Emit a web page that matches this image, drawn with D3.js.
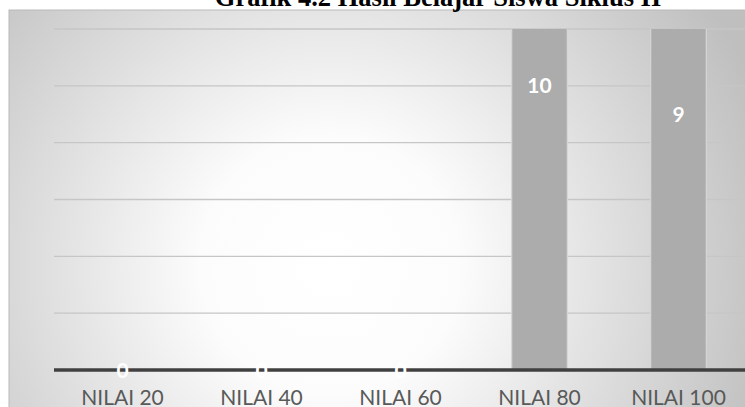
<!DOCTYPE html>
<html><head><meta charset="utf-8">
<script src="https://cdn.jsdelivr.net/npm/d3@7/dist/d3.min.js"></script>
<style>html,body{margin:0;padding:0;background:#fff;overflow:hidden}svg{display:block}</style>
</head><body>
<script>
const categories = ["NILAI 20","NILAI 40","NILAI 60","NILAI 80","NILAI 100"];
const values = [0,0,0,10,9];
const yTicks = [0,1,2,3,4,5,6];
const title = "Grafik 4.2 Hasil Belajar Siswa Siklus II";

const W = 745, H = 407;
const svg = d3.select("body").append("svg").attr("width",W).attr("height",H);
const defs = svg.append("defs");
const rg = defs.append("radialGradient").attr("id","bg").attr("gradientUnits","userSpaceOnUse")
  .attr("cx",330).attr("cy",265).attr("r",460);
rg.append("stop").attr("offset","0").attr("stop-color","#ffffff");
rg.append("stop").attr("offset","0.28").attr("stop-color","#fcfcfc");
rg.append("stop").attr("offset","1").attr("stop-color","#bfbfbf");
defs.append("clipPath").attr("id","plotclip").append("rect")
  .attr("x",0).attr("y",29).attr("width",W).attr("height",400);

// chart area box
svg.append("rect").attr("x",9).attr("y",10).attr("width",W).attr("height",H)
  .attr("fill","url(#bg)").attr("stroke","#bababa").attr("stroke-width",1);

const x = d3.scaleBand().domain(categories).range([53,748]).paddingInner(0.6).paddingOuter(0.3);
const y = d3.scaleLinear().domain([0,6]).range([370,29]);

// gridlines
svg.append("g").selectAll("line").data(yTicks.filter(d=>d>0)).join("line")
  .attr("x1",54).attr("x2",W).attr("y1",d=>y(d)).attr("y2",d=>y(d))
  .attr("stroke","#c6c6c6").attr("stroke-width",1.3);

// bars
svg.append("g").attr("clip-path","url(#plotclip)").selectAll("rect").data(values).join("rect")
  .attr("x",(d,i)=>x(categories[i])).attr("width",x.bandwidth())
  .attr("y",d=>y(d)).attr("height",d=>y(0)-y(d))
  .attr("fill","#acacac").attr("stroke","#d6d6d6").attr("stroke-width",1.2);

// axis line
const xAxis = d3.axisBottom(x).tickSize(0).tickPadding(0);
const ax = svg.append("g").attr("transform",`translate(0,${y(0)})`).call(xAxis);
ax.select(".domain").attr("d",`M54,0H${W}`).attr("stroke","#404040").attr("stroke-width",3.5);
ax.selectAll("text").attr("fill","#595959").attr("font-family","Lato, 'Open Sans', sans-serif")
  .attr("font-size",21).attr("y",35).attr("dy",null);

// data labels (center)
svg.append("g").selectAll("text").data(values).join("text")
  .attr("x",(d,i)=>x(categories[i])+x.bandwidth()/2)
  .attr("y",d=>(y(0)+y(d))/2).attr("dy","0.36em")
  .attr("text-anchor","middle").attr("fill","#ffffff").attr("font-weight","bold")
  .attr("font-family","Lato, 'Open Sans', sans-serif").attr("font-size",21)
  .text(d=>d);

// title
svg.append("text").attr("x",438).attr("y",5.5).attr("text-anchor","middle")
  .attr("font-family","'Liberation Serif','Times New Roman',serif").attr("font-weight","bold")
  .attr("font-size",26.5).attr("fill","#000").text(title);
</script>
</body></html>
